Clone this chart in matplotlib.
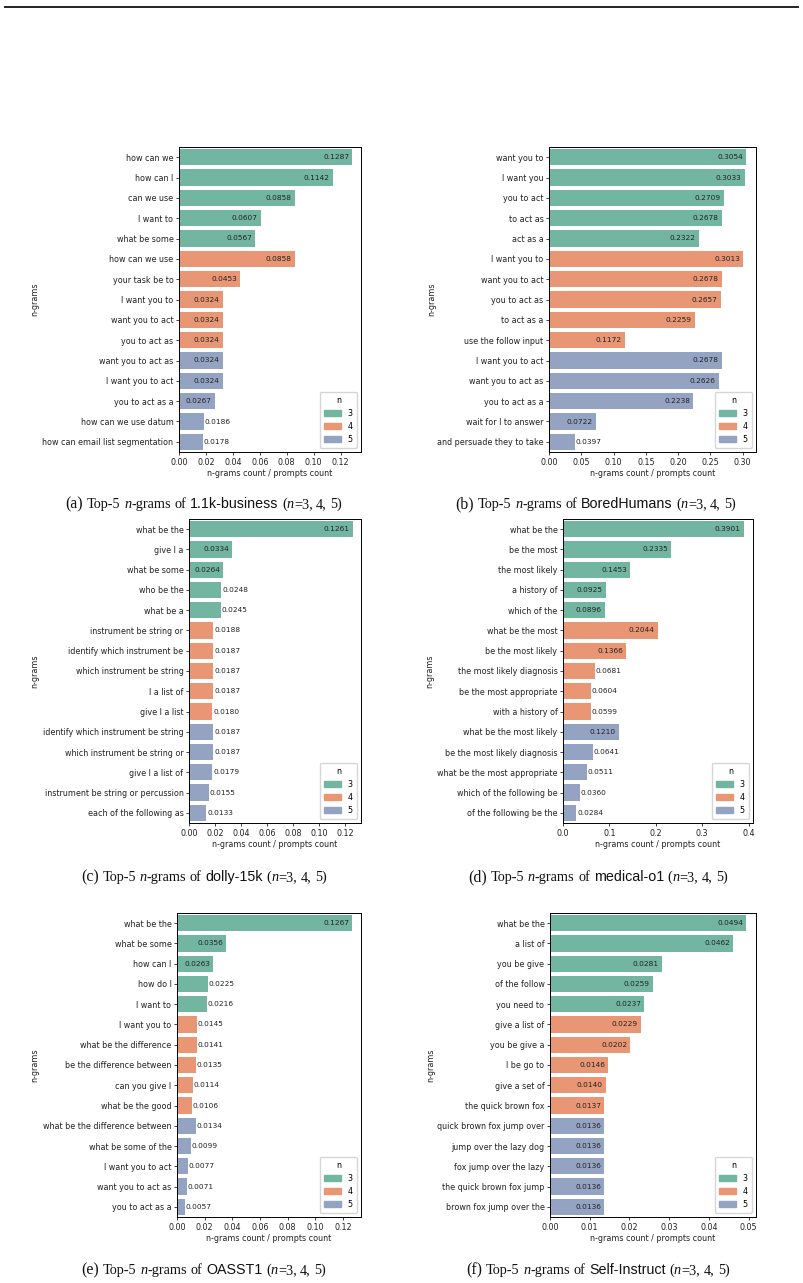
import numpy as np
import matplotlib
matplotlib.use('Agg')
import matplotlib.pyplot as plt
import seaborn as sns
from matplotlib.font_manager import FontProperties
from matplotlib.patches import Patch
from matplotlib.lines import Line2D

# ---------------- data ----------------
n_of_row = [3] * 5 + [4] * 5 + [5] * 5

business_ngrams = ['how can we', 'how can I', 'can we use', 'I want to', 'what be some',
                   'how can we use', 'your task be to', 'I want you to', 'want you to act', 'you to act as',
                   'want you to act as', 'I want you to act', 'you to act as a', 'how can we use datum',
                   'how can email list segmentation']
business_values = [0.1287, 0.1142, 0.0858, 0.0607, 0.0567,
                   0.0858, 0.0453, 0.0324, 0.0324, 0.0324,
                   0.0324, 0.0324, 0.0267, 0.0186, 0.0178]

bored_ngrams = ['want you to', 'I want you', 'you to act', 'to act as', 'act as a',
                'I want you to', 'want you to act', 'you to act as', 'to act as a', 'use the follow input',
                'I want you to act', 'want you to act as', 'you to act as a', 'wait for I to answer',
                'and persuade they to take']
bored_values = [0.3054, 0.3033, 0.2709, 0.2678, 0.2322,
                0.3013, 0.2678, 0.2657, 0.2259, 0.1172,
                0.2678, 0.2626, 0.2238, 0.0722, 0.0397]

dolly_ngrams = ['what be the', 'give I a', 'what be some', 'who be the', 'what be a',
                'instrument be string or', 'identify which instrument be', 'which instrument be string',
                'I a list of', 'give I a list',
                'identify which instrument be string', 'which instrument be string or', 'give I a list of',
                'instrument be string or percussion', 'each of the following as']
dolly_values = [0.1261, 0.0334, 0.0264, 0.0248, 0.0245,
                0.0188, 0.0187, 0.0187, 0.0187, 0.0180,
                0.0187, 0.0187, 0.0179, 0.0155, 0.0133]

medical_ngrams = ['what be the', 'be the most', 'the most likely', 'a history of', 'which of the',
                  'what be the most', 'be the most likely', 'the most likely diagnosis',
                  'be the most appropriate', 'with a history of',
                  'what be the most likely', 'be the most likely diagnosis', 'what be the most appropriate',
                  'which of the following be', 'of the following be the']
medical_values = [0.3901, 0.2335, 0.1453, 0.0925, 0.0896,
                  0.2044, 0.1366, 0.0681, 0.0604, 0.0599,
                  0.1210, 0.0641, 0.0511, 0.0360, 0.0284]

oasst_ngrams = ['what be the', 'what be some', 'how can I', 'how do I', 'I want to',
                'I want you to', 'what be the difference', 'be the difference between', 'can you give I',
                'what be the good',
                'what be the difference between', 'what be some of the', 'I want you to act',
                'want you to act as', 'you to act as a']
oasst_values = [0.1267, 0.0356, 0.0263, 0.0225, 0.0216,
                0.0145, 0.0141, 0.0135, 0.0114, 0.0106,
                0.0134, 0.0099, 0.0077, 0.0071, 0.0057]

selfinst_ngrams = ['what be the', 'a list of', 'you be give', 'of the follow', 'you need to',
                   'give a list of', 'you be give a', 'I be go to', 'give a set of', 'the quick brown fox',
                   'quick brown fox jump over', 'jump over the lazy dog', 'fox jump over the lazy',
                   'the quick brown fox jump', 'brown fox jump over the']
selfinst_values = [0.0494, 0.0462, 0.0281, 0.0259, 0.0237,
                   0.0229, 0.0202, 0.0146, 0.0140, 0.0137,
                   0.0136, 0.0136, 0.0136, 0.0136, 0.0136]

# ---------------- figure ----------------
W, H = 804, 1283
fig = plt.figure(figsize=(W / 100, H / 100), dpi=100)
pal = [sns.desaturate(c, 0.75) for c in sns.color_palette('Set2', 3)]
fs = 5.8

# top rule
fig.add_artist(Line2D([5 / W, 798 / W], [1 - 7 / H] * 2, lw=1.4, color='#222222'))


def panel(box, ylab_x, ngrams, values):
    l, r, t, b = box
    ax = fig.add_axes([l / W, 1 - b / H, (r - l) / W, (b - t) / H])
    y = np.arange(len(values))
    ax.barh(y, values, height=0.8, color=[pal[n - 3] for n in n_of_row])
    ax.set_ylim(len(values) - 0.5, -0.5)
    ax.set_yticks(y)
    ax.set_yticklabels(ngrams)
    vmax = max(values)
    for yi, v in zip(y, values):
        if v >= 0.2 * vmax:
            ax.annotate(f'{v:.4f}', (v, yi), xytext=(-2.2, 0), textcoords='offset points',
                        ha='right', va='center', fontsize=5.3, color='#222222')
        else:
            ax.annotate(f'{v:.4f}', (v, yi), xytext=(0.6, 0), textcoords='offset points',
                        ha='left', va='center', fontsize=5.3, color='#222222')
    ax.tick_params(labelsize=fs, length=2.5, width=0.6, pad=1.5, colors='#222222')
    for s in ax.spines.values():
        s.set_linewidth(0.7)
    ax.set_xlabel('n-grams count / prompts count', fontsize=fs, labelpad=1.5, color='#222222')
    fig.text(ylab_x / W, 1 - (t + b) / 2 / H, 'n-grams', rotation=90, ha='center', va='center',
             fontsize=fs, color='#222222')
    handles = [Patch(color=pal[i], label=str(i + 3)) for i in range(3)]
    ax.legend(handles=handles, title='n', loc='lower right', fontsize=fs, title_fontsize=fs,
              handlelength=2.2, borderpad=0.5)
    return ax


panel((179, 361, 147, 452), 35, business_ngrams, business_values)
panel((549, 756, 147, 452), 432, bored_ngrams, bored_values)
panel((189, 361, 519, 823), 35, dolly_ngrams, dolly_values)
panel((563, 753, 519, 823), 430, medical_ngrams, medical_values)
panel((177, 361, 913, 1217), 35, oasst_ngrams, oasst_values)
panel((550, 756, 913, 1217), 431, selfinst_ngrams, selfinst_values)

# ---------------- captions ----------------
serif_lab = FontProperties(family='Liberation Serif', size=11.3)
serif = FontProperties(family='Liberation Serif', size=10.3)
serif_it = FontProperties(family='Liberation Serif', style='italic', size=10.3)
sans = FontProperties(family='Liberation Sans', size=10.3)
renderer = fig.canvas.get_renderer()


def adv(s, fp):
    w1 = renderer.get_text_width_height_descent('x' + s + 'x', fp, False)[0]
    w0 = renderer.get_text_width_height_descent('xx', fp, False)[0]
    return w1 - w0


def caption(xc, base, label, name):
    toks = [(f'({label})', serif_lab), (' ', serif), ('Top-5', serif), (' ', serif), ('n', serif_it),
            ('-grams', serif), (' ', serif), ('of', serif), (' ', serif), (name, sans), (' ', serif),
            ('(', serif), ('n', serif_it), ('=3,', serif), (' ', serif), ('4,', serif), (' ', serif),
            ('5)', serif)]
    total = sum(adv(s, fp) for s, fp in toks)
    x = xc - total / 2
    for s, fp in toks:
        if s.strip():
            fig.text(x / W, 1 - base / H, s, fontproperties=fp, ha='left', va='baseline', color='#111111')
        x += adv(s, fp)


caption(204, 508, 'a', '1.1k-business')
caption(596, 508, 'b', 'BoredHumans')
caption(204, 881, 'c', 'dolly-15k')
caption(598, 881, 'd', 'medical-o1')
caption(204, 1274, 'e', 'OASST1')
caption(598, 1274, 'f', 'Self-Instruct')

fig.savefig('out.png', dpi=100)
